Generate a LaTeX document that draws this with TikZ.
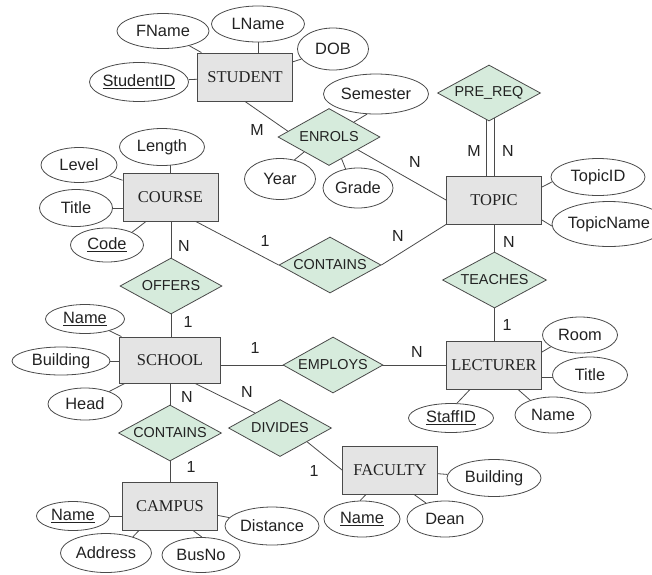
\documentclass[tikz,border=0pt]{standalone}
\usepackage{fontspec}
\setmainfont{Liberation Sans}
\newfontfamily\entfont{Liberation Serif}
\usetikzlibrary{shapes.geometric,backgrounds}

\definecolor{entfill}{HTML}{E4E4E4}
\definecolor{relfill}{HTML}{D6EBDC}
\definecolor{edge}{HTML}{4A4A4A}
\definecolor{ink}{HTML}{222222}

\begin{document}
\begin{tikzpicture}[x=1pt,y=-1pt,
  entity/.style={rectangle, draw=edge, fill=entfill, line width=0.9pt,
    minimum width=95pt, minimum height=48pt, inner sep=0pt, text=ink,
    font=\entfont\fontsize{16.5}{18}\selectfont},
  rel/.style={diamond, draw=edge, fill=relfill, line width=0.8pt, aspect=1.8,
    minimum width=102pt, minimum height=57pt, inner sep=0pt, text=ink,
    font=\fontsize{14.4}{16}\selectfont},
  attr/.style={ellipse, draw=edge, fill=white, line width=0.8pt,
    inner xsep=-3pt, inner ysep=0pt, text=ink,
    font=\fontsize{16.4}{18}\selectfont},
  card/.style={text=ink, font=\fontsize{16}{18}\selectfont, inner sep=0pt},
  link/.style={draw=edge, line width=0.8pt}]

\path[use as bounding box] (0,0) rectangle (652,574);

% entities
\node[entity] (student)  at (245,77)    {STUDENT};
\node[entity] (course)   at (170.5,197) {COURSE};
\node[entity] (topic)    at (494,200)   {TOPIC};
\node[entity, minimum width=101pt, minimum height=46pt] (school) at (170,360) {SCHOOL};
\node[entity] (lecturer) at (494,365)   {LECTURER};
\node[entity] (campus)   at (170,506)   {CAMPUS};
\node[entity] (faculty)  at (390,470)   {FACULTY};

% relationships
\node[rel] (enrols)    at (329,137)   {ENROLS};
\node[rel, minimum width=103pt, minimum height=56pt] (prereq) at (489,93) {PRE\_REQ};
\node[rel, minimum height=56pt] (contains1) at (330,265) {CONTAINS};
\node[rel, minimum height=56pt] (offers)    at (171,286)   {OFFERS};
\node[rel, minimum width=104pt, minimum height=56pt] (teaches) at (494.5,280) {TEACHES};
\node[rel, minimum width=100pt, minimum height=56pt] (employs) at (333,365) {EMPLOYS};
\node[rel, minimum width=103pt, minimum height=56pt] (contains2) at (170,433) {CONTAINS};
\node[rel, minimum width=103pt] (divides)   at (280,428)   {DIVIDES};

% attributes
\node[attr, minimum width=92pt,  minimum height=35pt] (fname)     at (163,31)  {FName};
\node[attr, minimum width=93pt,  minimum height=36pt] (lname)     at (258,24)  {LName};
\node[attr, minimum width=71pt,  minimum height=42pt] (dob)       at (333,49)  {DOB};
\node[attr, minimum width=99pt,  minimum height=39pt] (studentid) at (139,82)  {\underline{StudentID}};
\node[attr, minimum width=105pt, minimum height=40pt] (semester)  at (376,94)  {Semester};
\node[attr, minimum width=71pt,  minimum height=41pt] (year)      at (280,179) {Year};
\node[attr, minimum width=70pt,  minimum height=40pt] (grade)     at (358,188) {Grade};
\node[attr, minimum width=85pt,  minimum height=37pt] (length)    at (162,147) {Length};
\node[attr, minimum width=76pt,  minimum height=35pt] (level)     at (79,165)  {Level};
\node[attr, minimum width=73pt,  minimum height=37pt] (titlec)    at (76,208)  {Title};
\node[attr, minimum width=73pt,  minimum height=34pt] (code)      at (107,245) {\underline{Code}};
\node[attr, minimum width=94pt,  minimum height=37pt] (topicid)   at (598,177) {TopicID};
\node[attr, minimum width=114pt, minimum height=45pt] (topicname) at (609,224) {TopicName};
\node[attr, minimum width=79pt,  minimum height=29pt] (names)     at (85,319)  {\underline{Name}};
\node[attr, minimum width=98pt,  minimum height=28pt] (buildings) at (61,361)  {Building};
\node[attr, minimum width=74pt,  minimum height=32pt] (head)      at (85,404)  {Head};
\node[attr, minimum width=75pt,  minimum height=36pt] (room)      at (580,335) {Room};
\node[attr, minimum width=75pt,  minimum height=36pt] (titlel)    at (590,375) {Title};
\node[attr, minimum width=85pt,  minimum height=29pt] (staffid)   at (451,418) {\underline{StaffID}};
\node[attr, minimum width=76pt,  minimum height=36pt] (namel)     at (553,415) {Name};
\node[attr, minimum width=94pt,  minimum height=37pt] (buildingf) at (494,478) {Building};
\node[attr, minimum width=76pt,  minimum height=36pt] (namef)     at (362,519) {\underline{Name}};
\node[attr, minimum width=76pt,  minimum height=36pt] (dean)      at (445,519) {Dean};
\node[attr, minimum width=73pt,  minimum height=29pt] (namec)     at (73,516)  {\underline{Name}};
\node[attr, minimum width=94pt,  minimum height=38pt] (distance)  at (272,526) {Distance};
\node[attr, minimum width=91pt,  minimum height=39pt] (address)   at (106,553) {Address};
\node[attr, minimum width=78pt,  minimum height=35pt] (busno)     at (201,555) {BusNo};

% cardinalities
\node[card] (c1)  at (257,130) {M};
\node[card] (c2)  at (415,162) {N};
\node[card] (c3)  at (265,241) {1};
\node[card] (c4)  at (398,236) {N};
\node[card] (c5)  at (184,246) {N};
\node[card] (c6)  at (188,322) {1};
\node[card] (c7)  at (509,242) {N};
\node[card] (c8)  at (507,325) {1};
\node[card] (c9)  at (255,348) {1};
\node[card] (c10) at (417,352) {N};
\node[card] (c11) at (187,397) {N};
\node[card] (c12) at (191,467) {1};
\node[card] (c13) at (247,392) {N};
\node[card] (c14) at (314,471) {1};
\node[card] (c15) at (474,151) {M};
\node[card] (c16) at (508,151) {N};

\begin{scope}[on background layer]
  % relationship connectors
  \draw[link] (student.south) -- (enrols.172);
  \draw[link] (enrols.336) -- (topic.west);
  \draw[link] (course.316) -- (contains1.west);
  \draw[link] (contains1.east) -- (topic.south west);
  \draw[link] (offers.center) -- (offers.center |- course.center);
  \draw[link] (offers.center) -- (offers.center |- school.center);
  \draw[link] (teaches.center) -- (teaches.center |- topic.center);
  \draw[link] (teaches.center) -- (teaches.center |- lecturer.center);
  \draw[link] (employs.center) -- (employs.center -| school.center);
  \draw[link] (employs.center) -- (employs.center -| lecturer.center);
  \draw[link] (contains2.center) -- (contains2.center |- school.center);
  \draw[link] (contains2.center) -- (contains2.center |- campus.center);
  \draw[link] (school.317) -- (divides.149);
  \draw[link] (divides.333) -- (faculty.west);
  \draw[link] ([xshift=-2.4pt]prereq.center) -- ([xshift=-2.4pt]prereq.center |- topic.center);
  \draw[link] ([xshift=5.2pt]prereq.center) -- ([xshift=5.2pt]prereq.center |- topic.center);
  % attribute connectors
  \draw[link] (fname) -- (student);
  \draw[link] (lname.center) -- (lname.center |- student.center);
  \draw[link] (dob) -- (student);
  \draw[link] (studentid) -- (student);
  \draw[link] (semester.246) -- (enrols.31);
  \draw[link] (year.53) -- (enrols.211);
  \draw[link] (grade.123) -- (enrols.300);
  \draw[link] (course.center) -- (course.center |- length.center);
  \draw[link] (level) -- (course);
  \draw[link] (titlec.center) -- (titlec.center -| course.center);
  \draw[link] (code.27) -- ([xshift=-24.5pt]course.south);
  \draw[link] (topicid.186) -- ([yshift=13pt]topic.east);
  \draw[link] ([yshift=-20pt]topic.east) -- (topicname.182);
  \draw[link] (names) -- (school);
  \draw[link] (buildings.center) -- (buildings.center -| school.center);
  \draw[link] (head) -- (school);
  \draw[link] (room.202) -- ([yshift=13pt]lecturer.east);
  \draw[link] ([yshift=-12pt]lecturer.east) -- ([yshift=-12pt]lecturer.east -| titlel.center);
  \draw[link] (staffid.68) -- ([xshift=-24pt]lecturer.south);
  \draw[link] (namel.147) -- ([xshift=24pt]lecturer.south);
  \draw[link] (buildingf) -- (faculty);
  \draw[link] (namef.96) -- ([xshift=-24pt]faculty.south);
  \draw[link] (dean.140) -- ([xshift=24pt]faculty.south);
  \draw[link] (namec.center) -- (namec.center -| campus.center);
  \draw[link] (distance) -- (campus);
  \draw[link] (address.31) -- ([xshift=-31pt]campus.south);
  \draw[link] (busno.87) -- ([xshift=23pt]campus.south);
\end{scope}
\end{tikzpicture}
\end{document}
